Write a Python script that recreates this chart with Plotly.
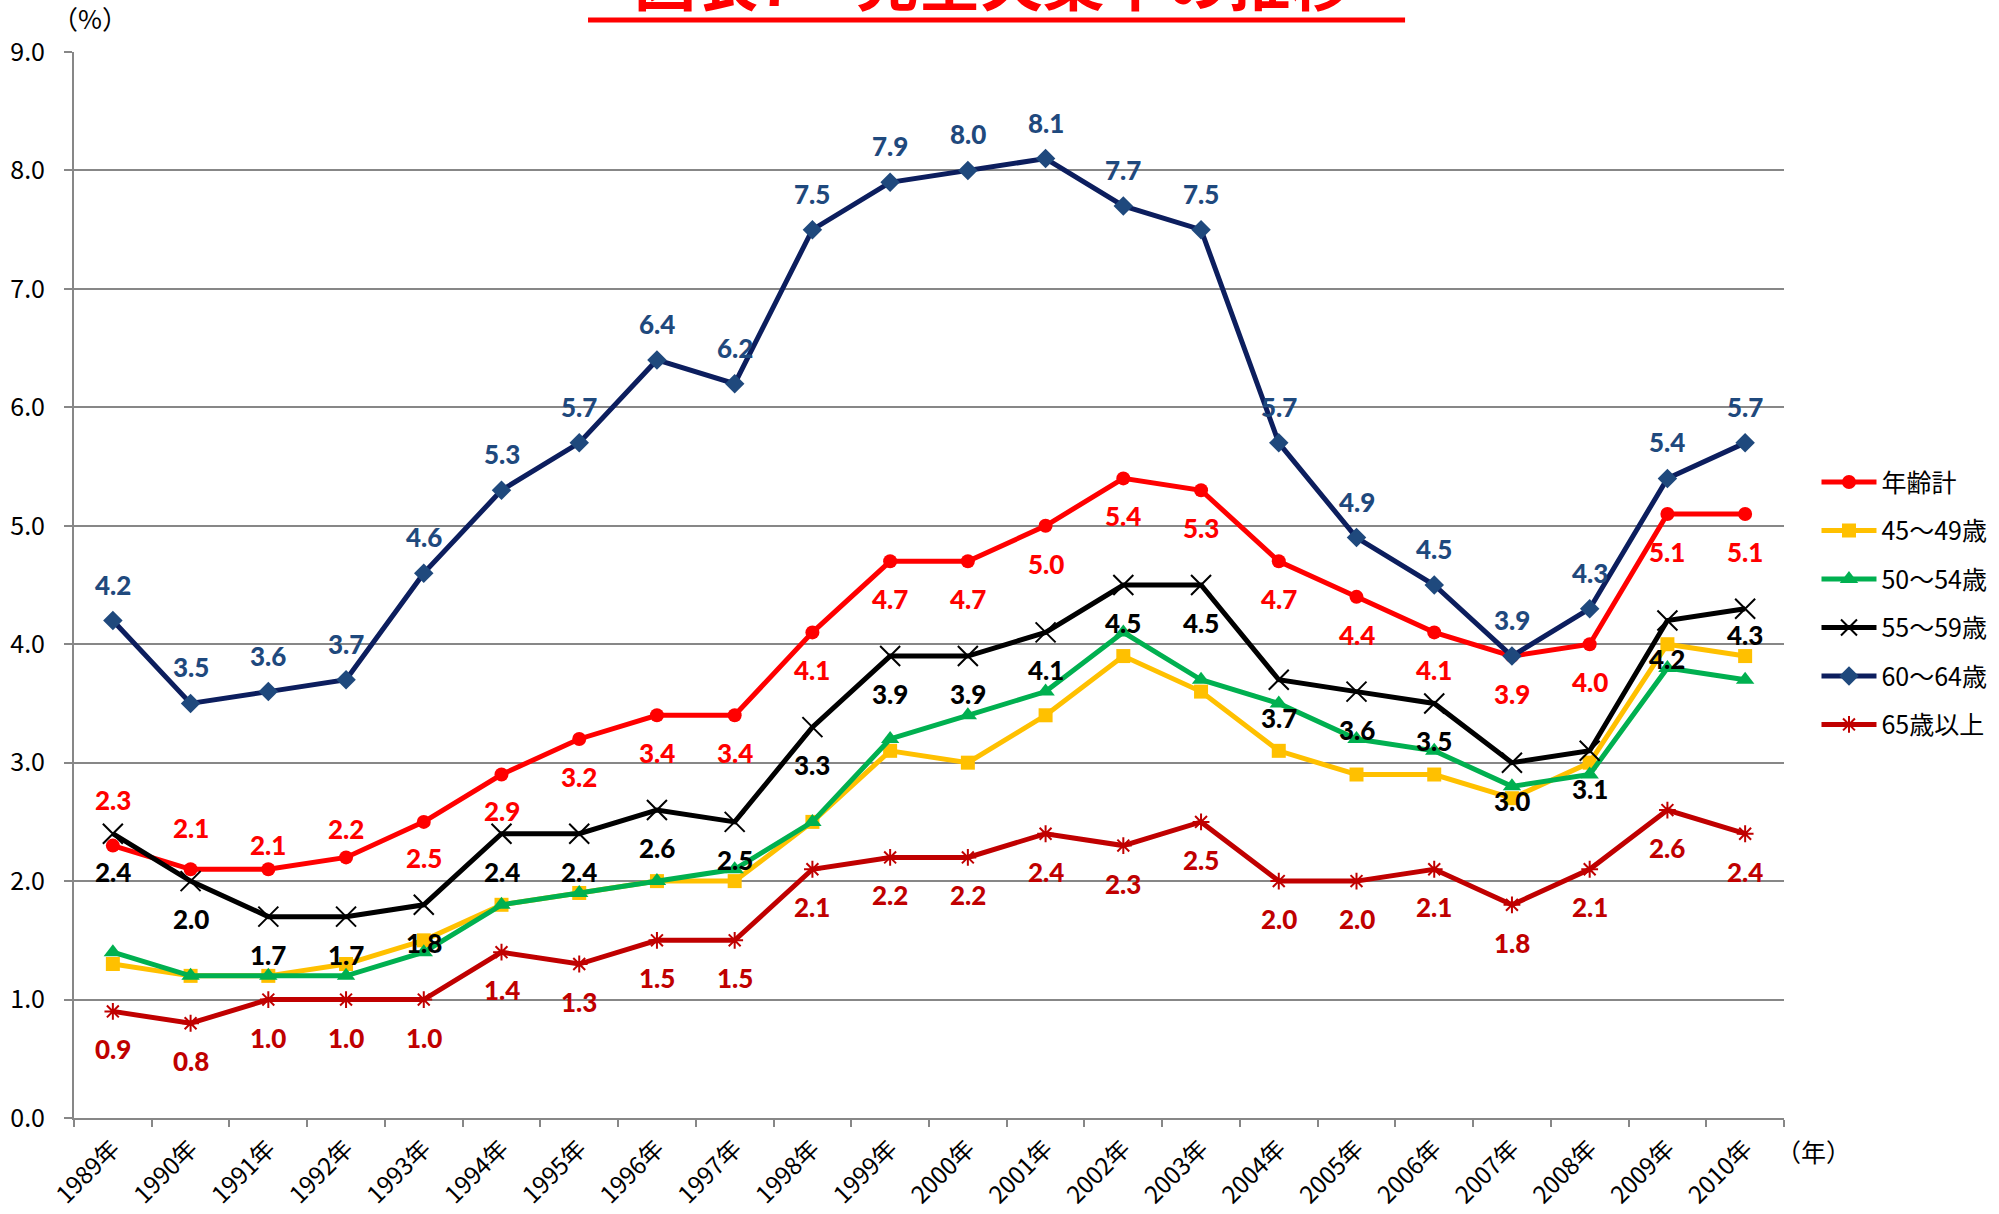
import plotly.graph_objects as go

years = ["1989年", "1990年", "1991年", "1992年", "1993年", "1994年", "1995年", "1996年",
         "1997年", "1998年", "1999年", "2000年", "2001年", "2002年", "2003年", "2004年",
         "2005年", "2006年", "2007年", "2008年", "2009年", "2010年"]

total = [2.3, 2.1, 2.1, 2.2, 2.5, 2.9, 3.2, 3.4, 3.4, 4.1, 4.7, 4.7, 5.0, 5.4, 5.3, 4.7, 4.4, 4.1, 3.9, 4.0, 5.1, 5.1]
age45_49 = [1.3, 1.2, 1.2, 1.3, 1.5, 1.8, 1.9, 2.0, 2.0, 2.5, 3.1, 3.0, 3.4, 3.9, 3.6, 3.1, 2.9, 2.9, 2.7, 3.0, 4.0, 3.9]
age50_54 = [1.4, 1.2, 1.2, 1.2, 1.4, 1.8, 1.9, 2.0, 2.1, 2.5, 3.2, 3.4, 3.6, 4.1, 3.7, 3.5, 3.2, 3.1, 2.8, 2.9, 3.8, 3.7]
age55_59 = [2.4, 2.0, 1.7, 1.7, 1.8, 2.4, 2.4, 2.6, 2.5, 3.3, 3.9, 3.9, 4.1, 4.5, 4.5, 3.7, 3.6, 3.5, 3.0, 3.1, 4.2, 4.3]
age60_64 = [4.2, 3.5, 3.6, 3.7, 4.6, 5.3, 5.7, 6.4, 6.2, 7.5, 7.9, 8.0, 8.1, 7.7, 7.5, 5.7, 4.9, 4.5, 3.9, 4.3, 5.4, 5.7]
age65_over = [0.9, 0.8, 1.0, 1.0, 1.0, 1.4, 1.3, 1.5, 1.5, 2.1, 2.2, 2.2, 2.4, 2.3, 2.5, 2.0, 2.0, 2.1, 1.8, 2.1, 2.6, 2.4]

series_names = ["年齢計", "45～49歳", "50～54歳", "55～59歳", "60～64歳", "65歳以上"]
y_ticks = [0, 1, 2, 3, 4, 5, 6, 7, 8, 9]

title_text = "図表7　完全失業率の推移"

# label offsets in pixels (positive = above the point)
off_total = [46, 41, 24, 28, -36, -36] + [-38] * 16
off_55 = [-38] * 21 + [-26]
off_60 = [36] * 22
off_65 = [-38] * 22

CJK = "Noto Sans CJK JP"
LBL = "Lato"

fig = go.Figure()

styles = [
    (total, series_names[0], "#FF0000", dict(symbol="circle", size=14, color="#FF0000")),
    (age45_49, series_names[1], "#FFC000", dict(symbol="square", size=14, color="#FFC000")),
    (age50_54, series_names[2], "#00B050", dict(symbol="triangle-up", size=16, color="#00B050")),
    (age55_59, series_names[3], "#000000", dict(symbol="x-thin", size=20, color="#000000",
                                                line=dict(color="#000000", width=2))),
    (age60_64, series_names[4], "#0C1E5E", dict(symbol="diamond", size=15, color="#1F497D")),
    (age65_over, series_names[5], "#C00000", dict(symbol="asterisk-open", size=14, color="#C00000",
                                                  line=dict(color="#C00000", width=2))),
]

for i, (vals, name, lc, mk) in enumerate(styles):
    fig.add_trace(go.Scatter(
        x=years, y=vals, name=name, mode="lines+markers",
        line=dict(color=lc, width=5),
        marker=mk,
        legendgroup=f"g{i}",
        cliponaxis=False,
    ))

annotations = []
for vals, offs, col in [(total, off_total, "#FF0000"),
                        (age55_59, off_55, "#000000"),
                        (age60_64, off_60, "#1F497D"),
                        (age65_over, off_65, "#C00000")]:
    for xv, yv, o in zip(years, vals, offs):
        annotations.append(dict(
            x=xv, y=yv, xref="x", yref="y", text=f"{yv:.1f}", showarrow=False,
            yshift=o, font=dict(family=LBL, size=26, color=col, weight=900),
        ))

# title (partly cut by the top edge of the page)
annotations.append(dict(
    x=0.5377, y=1.0244, xref="paper", yref="paper", xanchor="center", yanchor="bottom",
    text=title_text, showarrow=False,
    font=dict(family=CJK, size=62, color="#FF0000", weight="bold"),
))
annotations.append(dict(
    x=0.0094, y=1.0328, xref="paper", yref="paper", xanchor="center", yanchor="middle",
    text="（%）", showarrow=False, font=dict(family=CJK, size=26, color="#000000"),
))
annotations.append(dict(
    x=1.0175, y=-0.031, xref="paper", yref="paper", xanchor="center", yanchor="middle",
    text="（年）", showarrow=False, font=dict(family=CJK, size=25, color="#000000"),
))

shapes = [dict(type="line", xref="paper", yref="paper",
               x0=0.3006, x1=0.7784, y0=1.0300, y1=1.0300,
               line=dict(color="#FF0000", width=5))]

fig.update_layout(
    width=1999, height=1214,
    margin=dict(l=74, r=215, t=52, b=96, autoexpand=False),
    paper_bgcolor="white", plot_bgcolor="white",
    showlegend=True,
    legend=dict(x=1.019, xanchor="left", y=0.618, yanchor="top",
                font=dict(family=CJK, size=25, color="#000000"),
                traceorder="grouped", tracegroupgap=13, itemwidth=55,
                bgcolor="rgba(0,0,0,0)"),
    annotations=annotations,
    shapes=shapes,
)

fig.update_xaxes(
    type="category", range=[-0.5, 21.5], tickson="boundaries",
    ticks="outside", ticklen=7, tickcolor="#878787", tickwidth=2,
    showline=True, linecolor="#878787", linewidth=2,
    showgrid=False, tickangle=-45, ticklabelstandoff=5, automargin=False,
    tickfont=dict(family=CJK, size=24, color="#000000"),
)
fig.update_yaxes(
    range=[0, 9], tickvals=y_ticks, tickformat=".1f",
    ticks="outside", ticklen=8, tickcolor="#878787", tickwidth=2,
    showline=True, linecolor="#878787", linewidth=2,
    showgrid=True, gridcolor="#878787", gridwidth=2,
    zeroline=False, ticklabelstandoff=14, automargin=False,
    tickfont=dict(family=CJK, size=25, color="#000000"),
)

fig.write_html("out.html", config={"displayModeBar": False},
               post_script="document.body.style.margin='0px';")
